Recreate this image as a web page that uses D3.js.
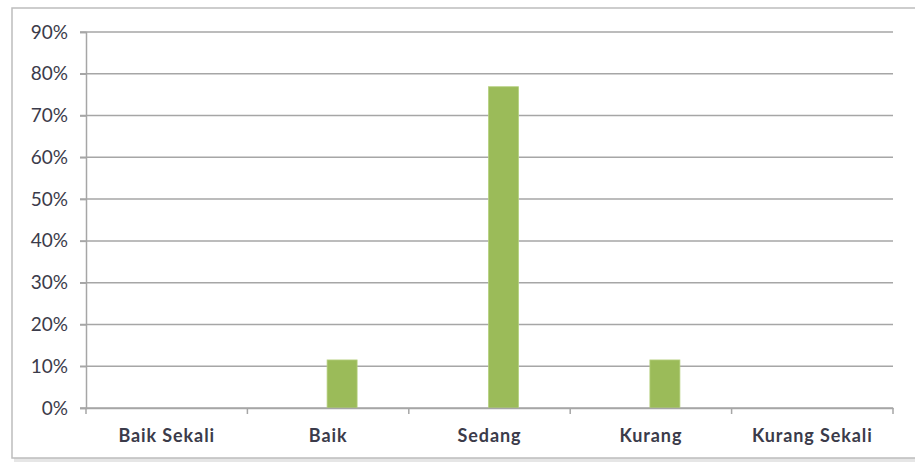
<!DOCTYPE html>
<html>
<head>
<meta charset="utf-8">
<script src="https://cdn.jsdelivr.net/npm/d3@7"></script>
<style>
  body { margin: 0; background: #fff; }
  svg { display: block; }
  .tick text { font-family: Lato, "Open Sans", sans-serif; font-weight: bold; fill: #3b3b4a; }
</style>
</head>
<body>
<div id="viz-area"></div>
<script>
// data
const categories = ["Baik Sekali", "Baik", "Sedang", "Kurang", "Kurang Sekali"];
const values     = [0, 0.115, 0.769, 0.115, 0];
const yTicks     = [0, 0.1, 0.2, 0.3, 0.4, 0.5, 0.6, 0.7, 0.8, 0.9];

const W = 915, H = 464;
const MARGIN = { LEFT: 86, RIGHT: 22, TOP: 32, BOTTOM: 56 };
const BAR = { WIDTH: 30, SHIFT: 14 };

const svg = d3.select("#viz-area").append("svg")
  .attr("width", W)
  .attr("height", H);

// chart frame with a soft shadow
svg.append("rect")
  .attr("x", 14).attr("y", 10).attr("width", W + 10).attr("height", H - 12)
  .attr("fill", "#e6e6e6");
svg.append("rect")
  .attr("x", 12).attr("y", 8).attr("width", W + 10).attr("height", H - 14)
  .attr("fill", "#fff")
  .attr("stroke", "#bdbdbd")
  .attr("stroke-width", 1.5);

const x = d3.scaleBand()
  .domain(categories)
  .range([MARGIN.LEFT, W - MARGIN.RIGHT]);

const y = d3.scaleLinear()
  .domain([0, 0.9])
  .range([H - MARGIN.BOTTOM, MARGIN.TOP]);

// gridlines
svg.append("g")
  .selectAll("line")
  .data(yTicks)
  .enter().append("line")
  .attr("x1", MARGIN.LEFT - 6)
  .attr("x2", W - MARGIN.RIGHT)
  .attr("y1", d => y(d))
  .attr("y2", d => y(d))
  .attr("stroke", "#a6a6a6")
  .attr("stroke-width", 1.5);

// y axis
const yAxis = svg.append("g")
  .attr("transform", `translate(${MARGIN.LEFT},0)`)
  .call(d3.axisLeft(y).tickValues(yTicks).tickFormat(d3.format(".0%")).tickSize(6).tickPadding(12));
yAxis.select(".domain").attr("stroke", "#a6a6a6").attr("stroke-width", 1.5);
yAxis.selectAll(".tick line").attr("stroke", "#a6a6a6").attr("stroke-width", 1.5);
yAxis.selectAll(".tick text").style("font-size", "19px").style("font-weight", "normal");

// bars
svg.append("g")
  .selectAll("rect")
  .data(values)
  .enter().append("rect")
  .attr("x", (d, i) => x(categories[i]) + x.bandwidth() / 2 + BAR.SHIFT - BAR.WIDTH / 2)
  .attr("y", d => y(d))
  .attr("width", BAR.WIDTH)
  .attr("height", d => y(0) - y(d))
  .attr("fill", "#9bbb59")
  .attr("stroke", "#b5d07e")
  .attr("stroke-width", 0.8);

// x axis with ticks at category boundaries
const xAxis = svg.append("g")
  .attr("transform", `translate(0,${y(0)})`)
  .call(d3.axisBottom(x).tickSize(0).tickPadding(21));
xAxis.select(".domain").attr("stroke", "#a6a6a6").attr("stroke-width", 1.5);
xAxis.selectAll(".tick text").style("font-size", "18px").style("letter-spacing", "0.9px");

const bounds = categories.map(c => x(c)).concat([x.range()[1]]);
svg.append("g")
  .selectAll("line")
  .data(bounds)
  .enter().append("line")
  .attr("x1", d => d).attr("x2", d => d)
  .attr("y1", y(0)).attr("y2", y(0) + 6)
  .attr("stroke", "#a6a6a6")
  .attr("stroke-width", 1.5);
</script>
</body>
</html>
